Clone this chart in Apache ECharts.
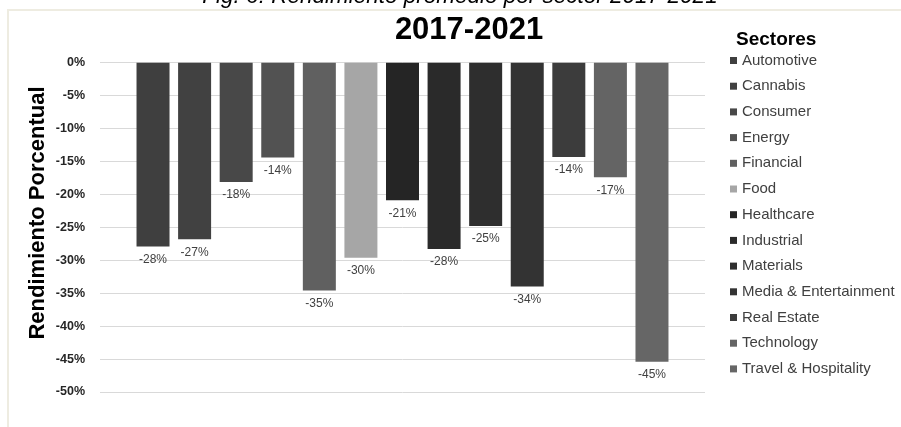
<!DOCTYPE html>
<html>
<head>
<meta charset="utf-8">
<script src="https://cdn.jsdelivr.net/npm/echarts@6/dist/echarts.min.js"></script>
<style>
  html, body { margin: 0; padding: 0; background: #fff; }
  #frame { position: absolute; left: 7px; top: 9px; width: 894px; height: 418px;
           border-top: 2px solid #eeece1; border-left: 2px solid #eeece1; }
  #chart { position: absolute; left: 0; top: 0; width: 901px; height: 427px; }
</style>
</head>
<body>
<div id="frame"></div>
<div id="chart"></div>
<script>
// sector returns 2017-2021
var sectores = ["Automotive", "Cannabis", "Consumer", "Energy", "Financial", "Food", "Healthcare",
	"Industrial", "Materials", "Media & Entertainment", "Real Estate", "Technology", "Travel & Hospitality"];
var rendimiento = [-27.9, -26.8, -18.1, -14.4, -34.6, -29.6, -20.9, -28.3, -24.8, -34.0, -14.3, -17.4, -45.4];
var colores = ["#3f3f3f", "#414141", "#484848", "#525252", "#606060", "#a6a6a6", "#252525",
	"#2a2a2a", "#2e2e2e", "#333333", "#3c3c3c", "#646464", "#666666"];
var yTicks = { min: -50, max: 0, interval: 5 };

var chart = echarts.init(document.getElementById('chart'));

var series = sectores.map(function (name, i) {
	return {
		name: name,
		type: 'bar',
		data: [rendimiento[i]],
		barWidth: 33,
		barGap: '26%',
		itemStyle: { color: colores[i] },
		label: {
			show: true,
			position: 'outside',
			distance: 7,
			color: '#404040',
			fontFamily: 'Liberation Sans, Arial',
			fontSize: 12,
			formatter: function (p) { return p.value.toFixed(0) + '%'; }
		}
	};
});

chart.setOption({
	animation: false,
	title: {
		text: '2017-2021',
		left: 464,
		textAlign: 'center',
		top: 10,
		textStyle: { fontFamily: 'Liberation Sans, Arial', fontSize: 31, fontWeight: 'bold', color: '#000' }
	},
	graphic: [
		{
			type: 'text', x: 460, y: -15,
			style: { text: 'Fig. 6: Rendimiento promedio por sector 2017-2021', font: 'italic 22.5px Liberation Sans, Arial', fill: '#000',
				align: 'center', verticalAlign: 'top' }
		},
		{
			type: 'text', left: 736, top: 30,
			style: { text: 'Sectores', font: 'bold 19px Liberation Sans, Arial', fill: '#000' }
		},
		{
			type: 'text', x: 38, y: 213, rotation: Math.PI / 2,
			style: { text: 'Rendimiento Porcentual', font: 'bold 22px Liberation Sans, Arial', fill: '#000',
				align: 'center', verticalAlign: 'middle' }
		}
	],
	legend: {
		orient: 'vertical',
		left: 725,
		top: 48,
		itemWidth: 7,
		itemHeight: 7,
		itemGap: 10.7,
		icon: 'rect',
		data: sectores,
		textStyle: { fontFamily: 'Liberation Sans, Arial', fontSize: 15, color: '#404040', lineHeight: 15 }
	},
	grid: { left: 100, right: 196, top: 62.7, bottom: 35 },
	xAxis: {
		type: 'category',
		data: [''],
		axisLine: { show: false },
		axisTick: { show: false },
		axisLabel: { show: false }
	},
	yAxis: {
		type: 'value',
		min: yTicks.min,
		max: yTicks.max,
		interval: yTicks.interval,
		axisLine: { show: false },
		axisTick: { show: false },
		splitLine: { lineStyle: { color: '#d9d9d9', width: 1 } },
		axisLabel: {
			margin: 15,
			color: '#262626',
			fontFamily: 'Liberation Sans, Arial',
			fontSize: 12.5,
			fontWeight: 'bold',
			formatter: '{value}%'
		}
	},
	series: series
});
</script>
</body>
</html>
